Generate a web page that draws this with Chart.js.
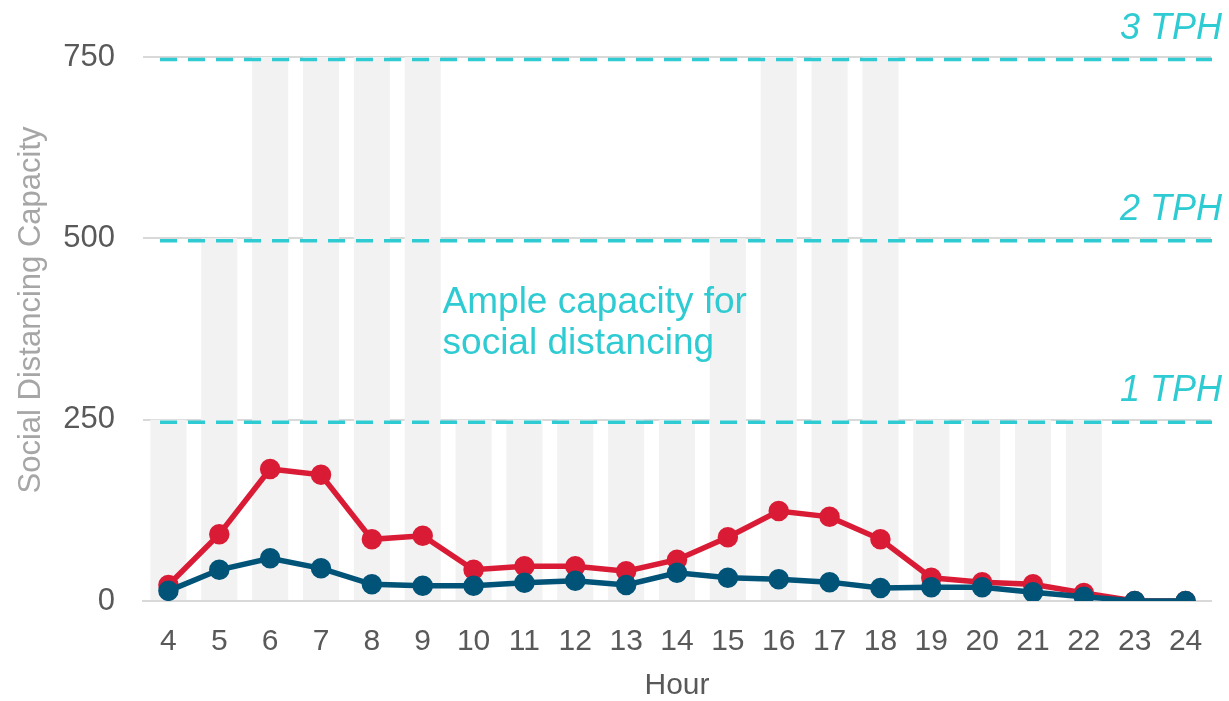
<!DOCTYPE html>
<html>
<head>
<meta charset="utf-8">
<script src="https://cdn.jsdelivr.net/npm/chart.js@4"></script>
<style>
  html, body { margin: 0; padding: 0; background: #fff; }
  #wrap { width: 1229px; height: 701px; }
</style>
</head>
<body>
<div id="wrap"><canvas id="capChart"></canvas></div>
<script>
const hours = ['4','5','6','7','8','9','10','11','12','13','14','15','16','17','18','19','20','21','22','23','24']

// gray background bars = scheduled capacity
const capacity = [250, 500, 750, 750, 750, 750, 250, 250, 250, 250, 250, 500, 750, 750, 750, 250, 250, 250, 250, 0, 0]
const redSeries = [22, 92, 182, 174, 85, 90, 43, 48, 48, 41, 57, 88, 124, 116, 85, 32, 26, 23, 11, 0, 0]
const blueSeries = [14, 43, 59, 45, 23, 21, 21, 25, 28, 22, 39, 32, 30, 26, 18, 19, 19, 12, 6, 0, 0]

const yTicks = [0, 250, 500, 750]
const tphLevels = [250, 500, 750]
const tphLabels = ['1 TPH', '2 TPH', '3 TPH']
const noteLines = ['Ample capacity for', 'social distancing']
const yTitle = 'Social Distancing Capacity'

const teal = '#2ECBD2'
const FONT = "'Liberation Sans', Arial, sans-serif"

/* lineas punteadas de TPH, nota y titulo del eje y */
const tphPlugin = {
    id: 'tph',
    afterDatasetsDraw(chart) {
        const ctx = chart.ctx
        const y = chart.scales.y
        const x = chart.scales.x
        const area = chart.chartArea
        ctx.save()
        tphLevels.forEach((v, i) => {
            const py = y.getPixelForValue(v) + 2.5
            ctx.strokeStyle = teal
            ctx.lineWidth = 3.5
            ctx.setLineDash([17, 11])
            ctx.beginPath()
            ctx.moveTo(area.left + 17, py)
            ctx.lineTo(area.right + 1, py)
            ctx.stroke()
            ctx.setLineDash([])
            ctx.fillStyle = teal
            ctx.font = 'italic 36px ' + FONT
            ctx.textAlign = 'right'
            ctx.textBaseline = 'alphabetic'
            ctx.fillText(tphLabels[i], area.right + 11, py - 21)
        })
        ctx.fillStyle = teal
        ctx.font = '37px ' + FONT
        ctx.textAlign = 'left'
        ctx.textBaseline = 'middle'
        const nx = x.getPixelForValue(6) - 31
        noteLines.forEach((t, i) => {
            ctx.fillText(t, nx, y.getPixelForValue(411) + i * 41)
        })

        // titulo del eje y, un poco arriba del centro
        ctx.translate(31, (area.top + area.bottom) / 2 - 19)
        ctx.rotate(-Math.PI / 2)
        ctx.fillStyle = '#A6A6A6'
        ctx.font = '31px ' + FONT
        ctx.textAlign = 'center'
        ctx.fillText(yTitle, 0, 0)
        ctx.restore()
    }
}

const ctx = document.getElementById('capChart').getContext('2d')

new Chart(ctx, {
    data: {
        labels: hours,
        datasets: [{
            type: 'line',
            label: 'Blue',
            data: blueSeries,
            borderColor: '#015378',
            backgroundColor: '#015378',
            borderWidth: 5.5,
            pointRadius: 7.5,
            pointHoverRadius: 7.5,
            order: 0
        }, {
            type: 'line',
            label: 'Red',
            data: redSeries,
            borderColor: '#DA1B35',
            backgroundColor: '#DA1B35',
            borderWidth: 5.5,
            pointRadius: 7.5,
            pointHoverRadius: 7.5,
            order: 1
        }, {
            type: 'bar',
            label: 'Capacity',
            data: capacity,
            backgroundColor: '#F2F2F2',
            barPercentage: 0.71,
            categoryPercentage: 1,
            order: 2
        }]
    },
    options: {
        responsive: true,
        maintainAspectRatio: false,
        animation: false,
        layout: {
            padding: { top: 57, right: 18, bottom: 0, left: 12 }
        },
        plugins: {
            legend: { display: false },
            tooltip: { enabled: false }
        },
        scales: {
            x: {
                afterFit: (scale) => { scale.height = 100 },
                grid: { display: false, drawTicks: false },
                border: { display: true, color: '#D9D9D9', width: 2 },
                ticks: {
                    color: '#595959',
                    font: { family: FONT, size: 30 },
                    padding: 23,
                    maxRotation: 0,
                    autoSkip: false
                },
                title: {
                    display: true,
                    text: 'Hour',
                    color: '#595959',
                    font: { family: FONT, size: 30, lineHeight: 1 },
                    padding: { top: 0, bottom: 0 }
                }
            },
            y: {
                min: 0,
                max: 750,
                afterBuildTicks: (scale) => {
                    scale.ticks = yTicks.map(v => ({ value: v }))
                },
                afterFit: (scale) => { scale.width = 131 },
                grid: { color: '#D9D9D9', lineWidth: 2, drawTicks: false },
                border: { display: false },
                ticks: {
                    color: '#595959',
                    font: { family: FONT, size: 31 },
                    padding: 28
                },
                title: { display: false }
            }
        }
    },
    plugins: [tphPlugin]
})
</script>
</body>
</html>
